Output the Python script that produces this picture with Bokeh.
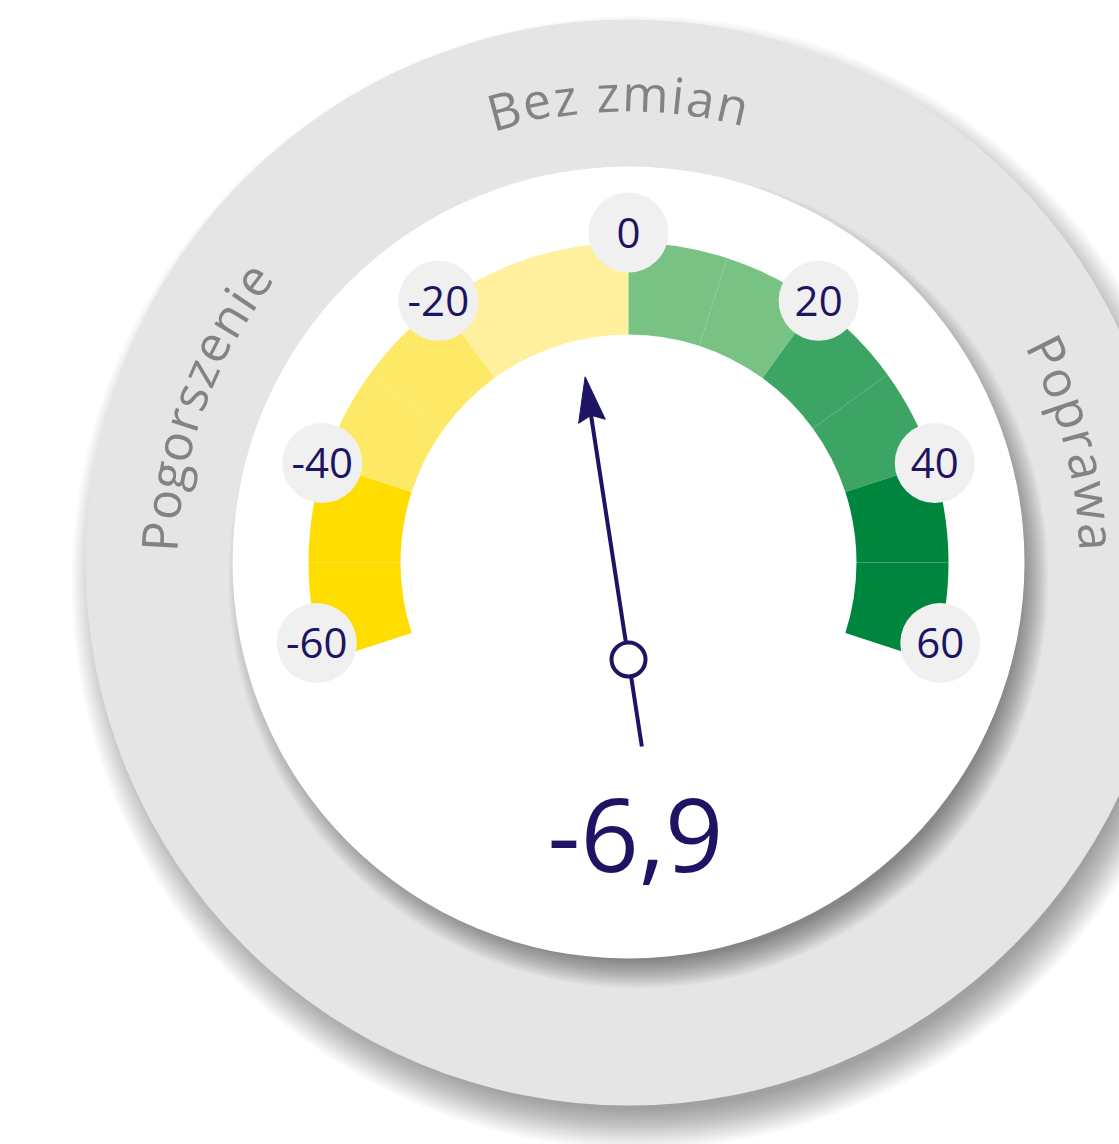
import numpy as np
from bokeh.plotting import figure
from bokeh.models import Range1d
from bokeh.core.properties import value
from bokeh.embed import file_html
from bokeh.resources import INLINE

# ---------------- data ----------------
segment_starts = [-60, -50, -40, -30, -20, -10, 0, 10, 20, 30, 40, 50]
segment_ends = [-50, -40, -30, -20, -10, 0, 10, 20, 30, 40, 50, 60]
segment_colors = ["#FFDD00", "#FFDD00", "#FEE966", "#FEE966", "#FEF09C", "#FEF09C",
                  "#78C383", "#78C383", "#3DA563", "#3DA563", "#00853F", "#00853F"]
tick_values = [-60, -40, -20, 0, 20, 40, 60]
tick_labels = ["-60", "-40", "-20", "0", "20", "40", "60"]
current_value = -6.9
value_label = "-6,9"
zone_labels = ["Pogorszenie", "Bez zmian", "Poprawa"]

# ---------------- style / geometry ----------------
NAVY = "#1E1464"
DEG_PER_UNIT = 1.8
R_IN, R_OUT = 228, 320
R_RING_OUT, R_RING_IN = 543, 396
R_LAB = 322
LAB_MAX_ANGLE = 104.5
zone_centers = [-70, -1.3, 75]          # degrees clockwise from top
zone_spacing = [2.4, 3.3, 2.6]
TEXT_R = 470
TEXT_FS = 50
FONT = "Open Sans"

W, H = 1119, 1144
p = figure(width=W, height=H, output_backend="svg", toolbar_location=None,
           x_range=Range1d(-628, 491), y_range=Range1d(-582, 562),
           min_border=0, outline_line_color=None, background_fill_color="white",
           border_fill_color="white")
p.axis.visible = False
p.grid.visible = False


def shadow(r, ox, oy, spread_in, spread_out, n, alpha):
    radii = np.linspace(r - spread_in, r + spread_out, n)
    p.circle(x=[ox] * n, y=[oy] * n, radius=list(radii), fill_color="black",
             fill_alpha=alpha, line_color=None)


# outer ring shadow + ring
shadow(R_RING_OUT, 10, -20, 16, 24, 26, 0.015)
p.circle(x=[0], y=[0], radius=R_RING_OUT, fill_color="#E5E5E5", line_color=None)
# inner white disc shadow + disc
shadow(R_RING_IN, 10, -16, 14, 14, 20, 0.023)
p.circle(x=[0], y=[0], radius=R_RING_IN, fill_color="white", line_color=None)

# gauge segments
starts = [np.radians(90 - DEG_PER_UNIT * e) for e in segment_ends]
ends = [np.radians(90 - DEG_PER_UNIT * s) for s in segment_starts]
p.annular_wedge(x=[0] * len(starts), y=[0] * len(starts), inner_radius=R_IN,
                outer_radius=R_OUT, start_angle=starts, end_angle=ends,
                fill_color=segment_colors, line_color=None)

# tick labels
lab_ang = [np.radians(np.clip(v * DEG_PER_UNIT, -LAB_MAX_ANGLE, LAB_MAX_ANGLE)) for v in tick_values]
lab_r = [R_LAB + 8 * np.cos(a) ** 8 for a in lab_ang]
lx = [r * np.sin(a) for r, a in zip(lab_r, lab_ang)]
ly = [r * np.cos(a) for r, a in zip(lab_r, lab_ang)]
p.circle(x=lx, y=ly, radius=40, fill_color="#F0F0F1", line_color=None)
p.text(x=lx, y=ly, text=tick_labels, text_align="center", text_baseline="middle",
       text_font=value(FONT), text_font_size="42px", text_color=NAVY)

# curved zone labels
WIDTHS = {" ": 0.26, "B": 0.642, "P": 0.598, "a": 0.556, "e": 0.561, "g": 0.49,
          "i": 0.253, "m": 0.908, "n": 0.614, "o": 0.604, "p": 0.613, "r": 0.408,
          "s": 0.477, "w": 0.778, "z": 0.471}
cx, cy, ct, ca = [], [], [], []
for word, center, sp in zip(zone_labels, zone_centers, zone_spacing):
    ws = [WIDTHS.get(c, 0.55) * TEXT_FS for c in word]
    total = sum(ws) + sp * (len(word) - 1)
    start = np.radians(center) - (total / TEXT_R) / 2
    pos = 0.0
    for c, w in zip(word, ws):
        th = start + (pos + w / 2) / TEXT_R
        pos += w + sp
        if c == " ":
            continue
        cx.append(TEXT_R * np.sin(th))
        cy.append(TEXT_R * np.cos(th))
        ct.append(c)
        ca.append(-th)
p.text(x=cx, y=cy, text=ct, angle=ca, text_align="center", text_baseline="middle",
       text_font=value(FONT), text_font_size=f"{TEXT_FS}px", text_color="#838383")

# needle
th_v = np.radians(current_value * DEG_PER_UNIT)
target = np.array([R_IN * np.sin(th_v), R_IN * np.cos(th_v)])
pivot = np.array([0.0, -97.0])
u = (target - pivot) / np.linalg.norm(target - pivot)
nrm = np.array([-u[1], u[0]])
tip = pivot + 286 * u
tail = pivot - 88 * u
notch = tip - 39 * u
base = tip - 45 * u
left = base + 13.5 * nrm
right = base - 13.5 * nrm
p.line(x=[tail[0], notch[0]], y=[tail[1], notch[1]], line_color=NAVY, line_width=4)
p.patch(x=[tip[0], left[0], notch[0], right[0]], y=[tip[1], left[1], notch[1], right[1]],
        fill_color=NAVY, line_color=NAVY, line_width=1)
p.circle(x=[pivot[0]], y=[pivot[1]], radius=17, fill_color="white", line_color=NAVY,
         line_width=4)

# value
p.text(x=[7], y=[-272], text=[value_label], text_align="center", text_baseline="middle",
       text_font=value(FONT), text_font_size="102px", text_color=NAVY)

open("out.html", "w").write(file_html(p, INLINE))
